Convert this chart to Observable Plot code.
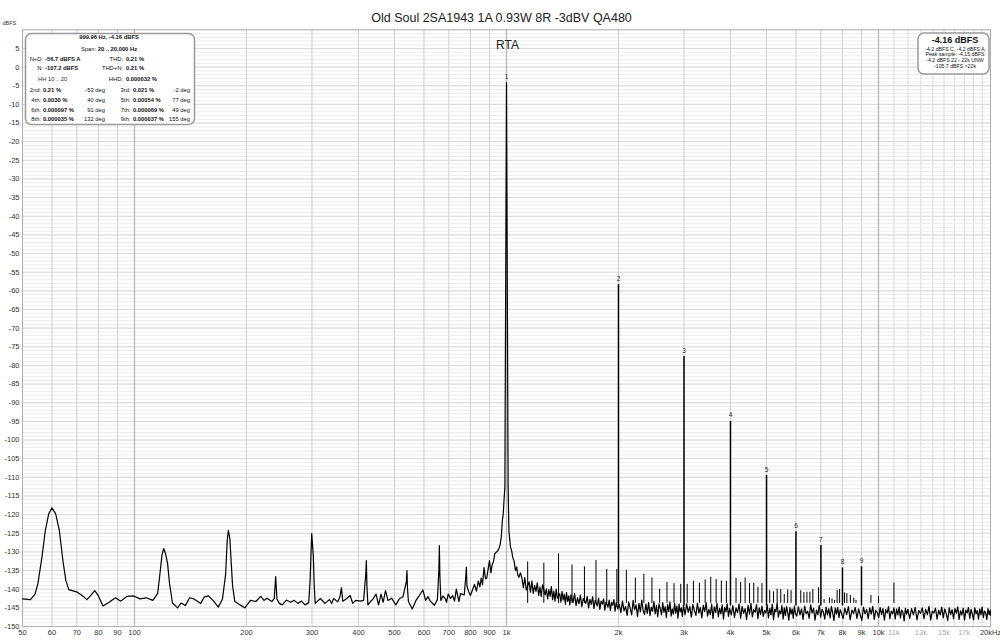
<!DOCTYPE html>
<html><head><meta charset="utf-8">
<script src="https://cdn.jsdelivr.net/npm/d3@7"></script>
<script src="https://cdn.jsdelivr.net/npm/@observablehq/plot@0.6"></script>
<style>body{margin:0;background:#fff} svg{display:block}</style>
</head><body><div id="chart"></div>
<script>
const title = "Old Soul 2SA1943 1A 0.93W 8R -3dBV QA480";
const xTicks = [50,60,70,80,90,100,200,300,400,500,600,700,800,900,1000,2000,3000,4000,5000,6000,7000,8000,9000,10000];
const xTickLabels = ["50","60","70","80","90","100","200","300","400","500","600","700","800","900","1k","2k","3k","4k","5k","6k","7k","8k","9k","10k"];
const xMinorTicks = [11000,12000,13000,14000,15000,16000,17000,18000,19000];
const xMinorLabelTicks = [11000,13000,15000,17000];
const xMinorLabels = ["11k","13k","15k","17k"];
const xEndTick = [20000];
const xEndLabel = ["20kHz"];
const xDecades = [100,1000,10000];
const yTicks = [5,0,-5,-10,-15,-20,-25,-30,-35,-40,-45,-50,-55,-60,-65,-70,-75,-80,-85,-90,-95,-100,-105,-110,-115,-120,-125,-130,-135,-140,-145,-150];

// harmonic peaks: order, frequency (Hz), level (dBFS)
const harmOrder = [1,2,3,4,5,6,7,8,9];
const harmFreq = [1000,2000,3000,4000,5000,6000,7000,8000,9000];
const harmDb = [-4.16,-58.3,-77.6,-95.0,-109.5,-124.6,-128.3,-134.3,-134.0];

// mains-related spurs above 1 kHz (Hz, dBFS)
const spurs = [
 [1140,-132.7],[1260,-133.0],[1380,-130.5],[1500,-133.5],[1620,-134.0],[1740,-132.3],[1860,-134.7],[1980,-134.7],
 [2100,-135.0],[2220,-137.0],[2340,-136.0],[2460,-137.0],[2580,-140.0],[2700,-138.2],[2820,-138.5],[2940,-138.7],
 [3060,-138.7],[3180,-137.9],[3300,-138.4],[3420,-137.5],[3540,-136.8],[3660,-137.4],[3780,-137.8],[3900,-137.9],
 [4140,-137.1],[4260,-138.2],[4380,-137.0],[4500,-138.5],[4620,-138.4],[4740,-139.5],[4860,-138.5],
 [5100,-140.4],[5220,-140.7],[5340,-140.0],[5460,-140.1],[5580,-141.4],[5700,-140.2],[5820,-140.4],
 [6180,-140.4],[6300,-140.9],[6420,-140.8],[6540,-140.8],[6660,-140.1],[6900,-139.6],
 [7140,-142.8],[7380,-142.3],[7500,-142.6],[7620,-143.0],[7740,-140.3],[7860,-140.1],
 [8100,-141.0],[8220,-141.2],[8400,-141.7],[8580,-142.4],[8700,-143.0],
 [9540,-141.7],[10000,-142.0],[11000,-138.4]
];

// spectrum trace below ~1.1 kHz (Hz, dBFS)
const lowTrace = [
 [50,-142.6],[52.5,-142.8],[54,-141.4],[55,-138.5],[56.4,-131.4],[57.6,-124.2],[58.8,-119.8],[60,-118.2],[61.4,-119.8],[62.8,-124.2],
 [64.2,-132.3],[65.4,-137.7],[66.6,-140.1],[70.2,-140.8],[72.3,-141.7],[74.5,-142.8],[76.5,-141.5],[78.2,-140.4],[80,-141.8],[82.3,-144.5],
 [85.5,-143.5],[88.9,-142.3],[91.8,-143.2],[95.6,-141.9],[99.5,-141.8],[103.4,-142.6],[107.6,-142.3],[112,-143],[115.4,-141.2],[116.8,-136.8],
 [118.5,-131],[119.8,-129.1],[121.2,-130.5],[122.7,-133],[124.2,-138.4],[126.5,-143.7],[130.6,-145],[133.5,-143.7],[137,-144.4],[140.6,-142.3],
 [144.5,-142.6],[150.7,-143.8],[154,-142.1],[158,-141.8],[162.6,-143],[168,-144.8],[172.4,-142.6],[175.8,-136],[177.5,-127],[178.8,-124.2],
 [180.5,-126.5],[182,-133],[183.5,-139],[186,-143.2],[192,-144.2],[198,-145],[205,-143],[212,-143.3],[218.5,-141.9],[223,-143],
 [227,-142.4],[234,-143.3],[237.5,-142.5],[239.6,-136.6],[241.5,-142.6],[245,-143.8],[249.6,-144.2],[256,-142.9],[262.7,-143.5],[268.5,-143],
 [275,-143.8],[281,-143.2],[287.3,-144.2],[294,-143.6],[296.5,-137.7],[299.5,-125.1],[302.5,-131],[304,-138.4],[306,-143.8],[316,-142.5],
 [325,-143.8],[334,-142.8],[339,-143.8],[343,-142.5],[352,-143.4],[357,-141.8],[360,-139.6],[363,-143.2],[372,-142.5],[380,-141.7],
 [386,-143.8],[393,-143],[405,-143.2],[413,-143],[418.5,-136],[420,-132.3],[421.5,-139],[424,-144.2],[431,-143.3],[438,-142.6],
 [446,-141.3],[453,-144.2],[460,-141.3],[466,-143.5],[473,-140.4],[480,-143],[491,-142.4],[504,-144.2],[516,-142.5],[527,-142],
 [538,-138],[540,-135],[542,-140],[545,-143.3],[558,-145.3],[571,-143],[583,-141.7],[596,-140.2],[606,-143],[615,-142],
 [624,-143.2],[640,-144.3],[652,-142.8],[658,-135],[660,-128.3],[662,-136],[666,-143],[675,-141.8],[684,-142.5],[690,-143.5],
 [697,-141.3],[707,-142.5],[716,-141.7],[725,-143.2],[733,-140],[745,-143.3],[752,-141.2],[770,-141.5],[778,-136],[780,-134.1],
 [783,-139.2],[791,-140.6],[800,-141.7],[810,-140.2],[820,-138.7],[830,-140.5],[840,-137.8],[848,-139.4],[855,-137],[862,-138.8],
 [870,-134.2],[878,-137.2],[885,-137],[893,-134.5],[900,-132.3],[908,-135.6],[915,-133.4],[922,-132.7],[930,-130.5],[940,-130],
 [948,-129.7],[955,-129],[962,-128],[968,-126],[975,-121.4],[980,-119.8],[985,-116],[990,-112.6],[1000,-4.16],[1010,-112.6],
 [1015,-124.2],[1020,-126.5],[1025,-128.7],[1032,-129.6],[1040,-131.6],[1048,-132.4],[1057,-135],[1065,-134],[1072,-136.2],[1080,-136.8],[1090,-135.6]
];

// noise floor trace above 1.1 kHz (Hz, dBFS)
const floorTrace = [
 [1100,-137.0],[1110,-139.6],[1120,-136.9],[1130,-140.2],[1150,-138.0],[1160,-140.8],[1170,-137.8],[1180,-141.1],[1190,-139.0],[1200,-140.6],
 [1210,-138.3],[1220,-141.7],[1230,-139.4],[1240,-142.0],[1250,-138.8],[1270,-141.5],[1280,-139.9],[1290,-142.6],[1300,-140.1],[1310,-141.9],
 [1320,-139.3],[1330,-142.8],[1340,-140.5],[1350,-143.2],[1360,-140.0],[1370,-142.4],[1390,-141.2],[1400,-143.5],[1410,-140.6],[1420,-142.9],
 [1430,-141.4],[1440,-144.0],[1450,-140.9],[1460,-143.3],[1470,-141.8],[1480,-144.2],[1490,-141.5],
 [1510,-143.6],[1524,-141.2],[1538,-144.4],[1552,-142.3],[1566,-143.9],[1580,-141.6],[1594,-144.7],[1608,-142.5],[1634,-143.8],[1648,-141.9],
 [1662,-145.0],[1676,-142.7],[1690,-144.1],[1704,-142.0],[1718,-145.2],[1732,-143.0],[1754,-144.5],[1768,-142.4],[1782,-145.4],[1796,-143.2],
 [1810,-144.0],[1824,-142.6],[1838,-145.6],[1852,-143.4],[1874,-144.8],[1888,-142.9],[1902,-145.7],[1916,-143.5],[1930,-144.3],[1944,-142.8],
 [1958,-145.9],[1972,-143.6],[1992,-145.3],
 [2010,-144.1],[2030,-146.3],[2050,-143.2],[2070,-145.8],[2090,-144.6],[2110,-147.0],[2130,-143.4],[2150,-145.1],[2170,-146.9],[2190,-143.0],
 [2210,-145.5],[2230,-144.2],[2250,-147.3],[2270,-143.8],[2290,-146.1],[2310,-142.9],[2330,-145.7],[2350,-146.8],[2370,-144.0],[2390,-146.5],
 [2410,-143.5],[2430,-147.1],[2450,-144.8],[2470,-145.9],[2490,-143.3],[2510,-146.6],[2530,-144.4],[2550,-147.4],[2570,-143.9],[2590,-145.2],
 [2610,-146.9],[2630,-143.6],[2650,-146.2],[2670,-144.7],[2690,-147.6],[2710,-144.1],[2730,-146.0],[2750,-143.4],[2770,-147.2],[2790,-145.3],
 [2810,-146.7],[2830,-143.8],[2850,-146.4],[2870,-144.5],[2890,-147.8],[2910,-144.0],[2930,-146.1],[2950,-145.0],[2970,-147.3],[2990,-144.3],
 [3020,-146.8],[3050,-143.9],[3080,-146.2],[3110,-144.6],[3140,-147.5],[3170,-144.1],[3200,-145.8],[3230,-147.0],[3260,-143.7],[3290,-146.4],
 [3320,-144.9],[3350,-147.7],[3380,-144.3],[3410,-146.0],[3440,-143.6],[3470,-147.2],[3500,-145.4],[3530,-146.8],[3560,-144.0],[3590,-147.9],
 [3620,-144.7],[3650,-146.3],[3680,-143.8],[3710,-147.4],[3740,-145.1],[3770,-146.6],[3800,-144.2],[3830,-148.0],[3860,-144.9],[3890,-146.1],
 [3920,-143.9],[3950,-147.3],[3980,-145.2],
 [4020,-146.9],[4060,-144.4],[4100,-147.6],[4140,-145.0],[4180,-146.3],[4220,-143.9],[4260,-147.8],[4300,-144.6],[4340,-146.5],[4380,-145.2],
 [4420,-148.1],[4460,-144.3],[4500,-146.7],[4540,-143.8],[4580,-147.4],[4620,-145.5],[4660,-146.2],[4700,-144.1],[4740,-147.9],[4780,-145.0],
 [4820,-146.8],[4860,-144.5],[4900,-147.3],[4940,-145.7],[4980,-146.4],[5020,-144.2],[5060,-147.7],[5100,-145.1],[5140,-146.9],[5180,-144.0],
 [5220,-148.2],[5260,-145.4],[5300,-146.1],[5340,-143.7],[5380,-147.5],[5420,-145.8],[5460,-146.6],[5500,-144.4],[5540,-148.0],[5580,-145.0],
 [5620,-147.1],[5660,-144.6],[5700,-146.3],[5740,-148.3],[5780,-144.9],[5820,-146.7],[5860,-145.3],[5900,-147.8],[5940,-144.5],[5980,-146.5],
 [6030,-147.2],[6090,-144.7],[6150,-146.9],[6210,-145.3],[6270,-148.1],[6330,-144.5],[6390,-146.6],[6450,-145.9],[6510,-147.8],[6570,-144.2],
 [6630,-146.4],[6690,-145.1],[6750,-148.3],[6810,-145.6],[6870,-146.8],[6930,-144.3],[6990,-147.5],[7050,-145.4],[7110,-146.2],[7170,-148.0],
 [7230,-144.8],[7290,-146.9],[7350,-145.2],[7410,-147.7],[7470,-144.6],[7530,-146.3],[7590,-148.4],[7650,-145.0],[7710,-146.7],[7770,-144.9],
 [7830,-147.6],[7890,-145.5],[7950,-146.4],
 [8030,-147.9],[8120,-145.1],[8210,-146.8],[8300,-144.7],[8390,-148.2],[8480,-145.6],[8570,-146.5],[8660,-144.9],[8750,-147.8],[8840,-145.3],
 [8930,-146.9],[9020,-148.4],[9110,-144.8],[9200,-146.6],[9290,-145.4],[9380,-147.9],[9470,-145.0],[9560,-146.7],[9650,-144.6],[9740,-148.1],
 [9830,-145.7],[9920,-146.3],[10010,-147.6],[10100,-144.9],[10190,-146.8],[10280,-145.2],[10370,-148.3],[10460,-145.5],[10550,-146.4],[10640,-144.7],
 [10730,-147.9],[10820,-145.9],[10910,-146.6],[11000,-145.0],[11090,-148.0],[11180,-145.3],[11270,-146.9],[11360,-144.8],[11450,-147.7],[11540,-145.6],
 [11630,-146.2],[11720,-148.5],[11810,-145.1],[11900,-146.7],[11990,-145.4],
 [12130,-147.8],[12270,-145.2],[12410,-146.9],[12550,-144.9],[12690,-148.2],[12830,-145.7],[12970,-146.5],[13110,-145.0],[13250,-147.9],[13390,-145.4],
 [13530,-146.8],[13670,-144.6],[13810,-148.3],[13950,-145.9],[14090,-146.4],[14230,-145.1],[14370,-148.0],[14510,-145.6],[14650,-146.9],[14790,-144.8],
 [14930,-147.7],[15070,-145.3],[15210,-146.6],[15350,-148.4],[15490,-145.0],[15630,-146.8],[15770,-145.5],[15910,-147.9],[16050,-145.2],[16190,-146.5],
 [16330,-144.7],[16470,-148.1],[16610,-145.8],[16750,-146.9],[16890,-145.1],[17030,-148.3],[17170,-145.6],[17310,-146.4],[17450,-144.9],[17590,-147.8],
 [17730,-145.4],[17870,-146.7],[18010,-148.2],[18150,-145.0],[18290,-146.6],[18430,-145.7],[18570,-148.0],[18710,-145.3],[18850,-146.9],[18990,-144.8],
 [19130,-147.6],[19270,-145.9],[19410,-146.3],[19550,-148.1],[19690,-145.2],[19830,-146.8],[19970,-145.6],[20000,-147.0]
];

const trace = lowTrace.concat(floorTrace).map(([f, db]) => ({f, db})).sort((a, b) => a.f - b.f);
const harmonics = harmOrder.map((n, i) => ({n, f: harmFreq[i], db: harmDb[i]}));
const spurData = spurs.map(([f, db]) => ({f, db}));
const yFine = d3.range(-150, 11, 1);
const labelOf = new Map(xTicks.map((t, i) => [t, xTickLabels[i]]));
const minorLabelOf = new Map(xMinorLabelTicks.map((t, i) => [t, xMinorLabels[i]]));

const FONT = "Liberation Sans, Arial, sans-serif";

const chart = Plot.plot({
  width: 1000,
  height: 640,
  marginLeft: 22,
  marginRight: 10,
  marginTop: 29.3,
  marginBottom: 14,
  style: {fontFamily: FONT, background: "#fff"},
  x: {type: "log", domain: [50, 20000], axis: null},
  y: {domain: [-150, 10], axis: null},
  marks: [
    Plot.ruleY(yFine, {stroke: "#ececec", strokeWidth: 1}),
    Plot.ruleY(yTicks, {stroke: "#dadada", strokeWidth: 1}),
    Plot.ruleX(xMinorTicks, {stroke: "#dcdcdc", strokeWidth: 1}),
    Plot.ruleX(xTicks, {stroke: "#cfcfcf", strokeWidth: 1}),
    Plot.ruleX(xDecades, {stroke: "#b9b9b9", strokeWidth: 1.3}),
    Plot.frame({stroke: "#b0b0b0", strokeWidth: 1}),
    Plot.ruleX(spurData, {x: "f", y1: -143.8, y2: "db", stroke: "#000", strokeWidth: 1}),
    Plot.ruleX(harmonics.filter(d => d.n > 1), {x: "f", y1: -144.5, y2: "db", stroke: "#000", strokeWidth: 1.5}),
    Plot.line(trace, {x: "f", y: "db", stroke: "#000", strokeWidth: 1.2, curve: "linear"}),
    Plot.text(harmonics, {x: "f", y: "db", text: d => String(d.n), dy: -6, fontSize: 6.5, fill: "#222"}),
    Plot.text(xTicks, {x: d => d, frameAnchor: "bottom", dy: 8, text: d => labelOf.get(d), fontSize: 7.5, fill: "#333"}),
    Plot.text(xMinorLabelTicks, {x: d => d, frameAnchor: "bottom", dy: 8, text: d => minorLabelOf.get(d), fontSize: 7.5, fill: "#aaa"}),
    Plot.text(xEndTick, {x: d => d, frameAnchor: "bottom", dy: 8, text: () => xEndLabel[0], fontSize: 7.5, fill: "#333"}),
    Plot.text(yTicks, {y: d => d, frameAnchor: "left", dx: -3, textAnchor: "end", text: d => String(d), fontSize: 7.5, fill: "#333"}),
    Plot.text(["RTA"], {frameAnchor: "top", dy: 11, dx: 1, fontSize: 12, fill: "#222"}),
    Plot.text([title], {frameAnchor: "top", dy: -17, dx: -5, fontSize: 12.5, fill: "#222"}),
    Plot.text(["dBFS"], {frameAnchor: "top-left", dx: -20, dy: -9, textAnchor: "start", fontSize: 5.5, fill: "#333"})
  ]
});

document.getElementById("chart").appendChild(chart);

// info boxes (annotations)
const svg = d3.select(chart);
function box(x, y, w, h) {
  svg.append("rect").attr("x", x).attr("y", y).attr("width", w).attr("height", h)
    .attr("rx", 6).attr("ry", 6).attr("fill", "#fff").attr("stroke", "#9a9a9a").attr("stroke-width", 1.5);
}
function txt(x, y, s, opts = {}) {
  svg.append("text").attr("x", x).attr("y", y).attr("dominant-baseline", "middle")
    .attr("text-anchor", opts.anchor || "start").attr("font-size", opts.size || 5.8)
    .attr("font-weight", opts.bold ? "bold" : "normal").attr("fill", opts.fill || "#111")
    .attr("font-family", FONT).text(s);
}
box(25.5, 33.5, 169, 91);
txt(109, 37.8, "999.96 Hz, -4.16 dBFS", {anchor: "middle", bold: true});
svg.append("text").attr("x", 109).attr("y", 49.3).attr("dominant-baseline", "middle").attr("text-anchor", "middle")
  .attr("font-size", 5.8).attr("font-family", FONT).attr("fill", "#111")
  .call(t => { t.append("tspan").text("Span: "); t.append("tspan").attr("font-weight", "bold").text("20 .. 20,000 Hz"); });
const leftRows = [
  [59.3, "N+D:", "-56.7 dBFS A", "THD:", "0.21 %"],
  [68.7, "N:", "-107.2 dBFS", "THD+N:", "0.21 %"]
];
leftRows.forEach(([y, a, b, c, d]) => {
  txt(43, y, a, {anchor: "end"}); txt(45, y, b, {bold: true});
  txt(123, y, c, {anchor: "end"}); txt(126, y, d, {bold: true});
});
txt(38, 79, "HH 10 .. 20", {fill: "#333"});
txt(123, 79, "HHD:", {anchor: "end"}); txt(126, 79, "0.000032 %", {bold: true});
const hRows = [
  [90, "2nd:", "0.21 %", "-53 deg", "3rd:", "0.021 %", "-2 deg"],
  [100, "4th:", "0.0030 %", "40 deg", "5th:", "0.00054 %", "77 deg"],
  [110, "6th:", "0.000097 %", "91 deg", "7th:", "0.000069 %", "49 deg"],
  [119.5, "8th:", "0.000035 %", "132 deg", "9th:", "0.000037 %", "155 deg"]
];
hRows.forEach(([y, a, b, c, d, e, f]) => {
  txt(41, y, a, {anchor: "end"}); txt(43, y, b, {bold: true}); txt(105, y, c, {anchor: "end"});
  txt(130.5, y, d, {anchor: "end"}); txt(133, y, e, {bold: true}); txt(190, y, f, {anchor: "end"});
});
box(918, 33, 71, 41);
txt(955, 40.5, "-4.16 dBFS", {anchor: "middle", size: 9, bold: true});
txt(955, 49.3, "-4.2 dBFS C, -4.2 dBFS A", {anchor: "middle", size: 5.2});
txt(955, 55, "Peak sample: -4.15 dBFS", {anchor: "middle", size: 5.2});
txt(955, 60.7, "-4.2 dBFS 22 - 22k UNW", {anchor: "middle", size: 5.2});
txt(955, 66.7, "-105.7 dBFS >22k", {anchor: "middle", size: 5.2});
</script>
</body></html>
